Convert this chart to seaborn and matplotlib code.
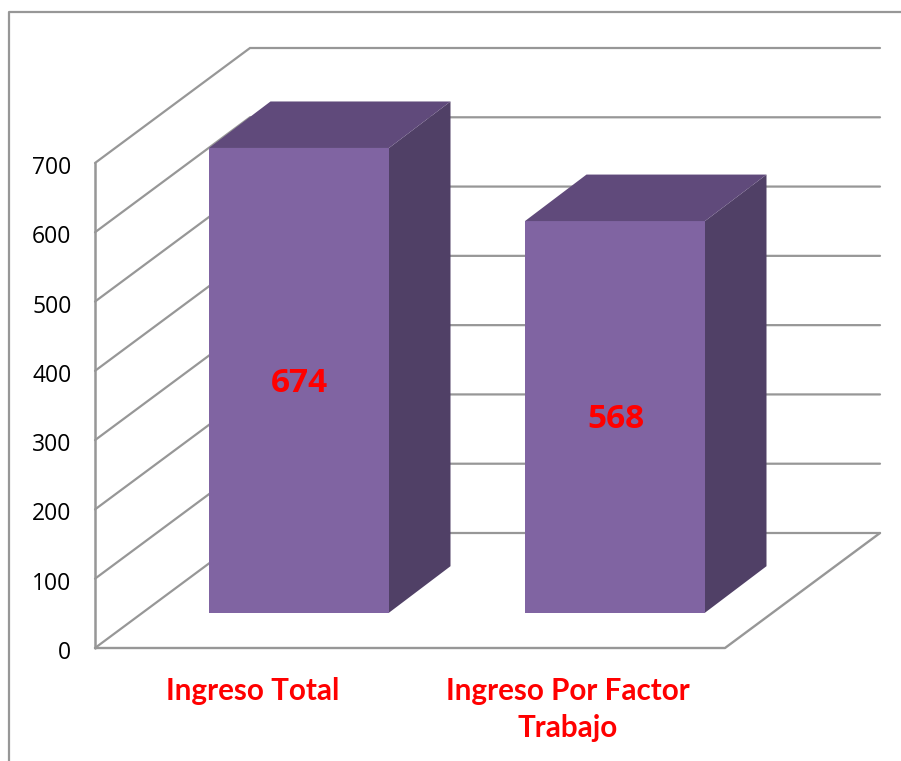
import matplotlib
matplotlib.use("Agg")
import matplotlib.pyplot as plt
from matplotlib.lines import Line2D
from matplotlib.patches import Polygon
from matplotlib.transforms import ScaledTranslation
import seaborn as sns

categories = ["Ingreso Total", "Ingreso Por Factor\nTrabajo"]
values = [674, 568]
y_ticks = [0, 100, 200, 300, 400, 500, 600, 700]

W, H = 901, 761
GREY = "#979797"
FRONT = "#8064A2"
TOP = "#604A7B"
SIDE = "#504066"
RED = "#FF0000"

sns.set_style("white")
plt.rcParams["font.family"] = ["Lato", "DejaVu Sans"]


def box(left, right, top, bottom):
    # pixel box from the top left corner -> figure fractions
    return [left / W, 1 - bottom / H, (right - left) / W, (bottom - top) / H]


fig = plt.figure(figsize=(W / 100, H / 100), dpi=100)

# front plane of the chart, holds both axes labels
ax = fig.add_axes(box(95, 725, 163, 648))
ax.set_xlim(-0.5, 1.5)
ax.set_ylim(0, 700)
ax.set_xticks([0, 1])
ax.set_xticklabels(categories, color=RED, fontsize=21.3, fontweight="bold", linespacing=1.38)
ax.set_yticks(y_ticks)
ax.tick_params(axis="x", length=0, pad=21)
ax.tick_params(axis="y", length=0, pad=17, labelsize=16.5, labelcolor="black")
nudge = ScaledTranslation(0, -2 / 100, fig.dpi_scale_trans)
for lab in ax.get_yticklabels():
    lab.set_family("Open Sans")
    lab.set_transform(lab.get_transform() + nudge)
ax.patch.set_visible(False)
for s in ax.spines.values():
    s.set_visible(False)

# depth of the walls and floor, in data units of ax
wall_dx = 155 / 315
wall_dy = 115 / (485 / 700)
x0, x1 = -0.5, 1.5
for t in y_ticks:
    ax.plot([x0, x0 + wall_dx, x1 + wall_dx], [t, t + wall_dy, t + wall_dy],
            color=GREY, lw=1.6, clip_on=False, zorder=1, solid_joinstyle="miter")
ax.plot([x0, x0], [0, 700], color=GREY, lw=1.8, clip_on=False, zorder=1)
ax.plot([x0, x1, x1 + wall_dx], [0, 0, wall_dy], color=GREY, lw=1.7, clip_on=False, zorder=1)

# bars sit in their own plane, further back than the axis
ax_bars = fig.add_axes(box(141, 773, 612.7 - 0.6895 * 700, 612.7))
ax_bars.patch.set_visible(False)
sns.barplot(x=categories, y=values, ax=ax_bars, color=FRONT, saturation=1, width=180 / 316,
            linewidth=0, edgecolor="none")
ax_bars.set_xlim(-0.5, 1.5)
ax_bars.set_ylim(0, 700)
ax_bars.axis("off")

bar_dx = 61.5 / 316
bar_dy = 46.5 / 0.6895
for bar in ax_bars.patches:
    l, r = bar.get_x(), bar.get_x() + bar.get_width()
    h = bar.get_height()
    ax_bars.add_patch(Polygon([(r, 0), (r + bar_dx, bar_dy), (r + bar_dx, h + bar_dy), (r, h)],
                              facecolor=SIDE, edgecolor="none", clip_on=False))
    ax_bars.add_patch(Polygon([(l, h), (l + bar_dx, h + bar_dy), (r + bar_dx, h + bar_dy), (r, h)],
                              facecolor=TOP, edgecolor="none", clip_on=False))

anns = ax_bars.bar_label(ax_bars.containers[0], labels=[str(v) for v in values], label_type="center",
                         color=RED, fontsize=24, fontweight="bold", family="Open Sans")
for a in anns:
    a.xyann = (0.5, -2)

# chart area frame, only the top and left edges are in the crop
fig.add_artist(Line2D([9 / W, 9 / W, 1], [0, 1 - 12 / H, 1 - 12 / H], color=GREY, lw=1.6))

fig.savefig("out.png", dpi=100)
